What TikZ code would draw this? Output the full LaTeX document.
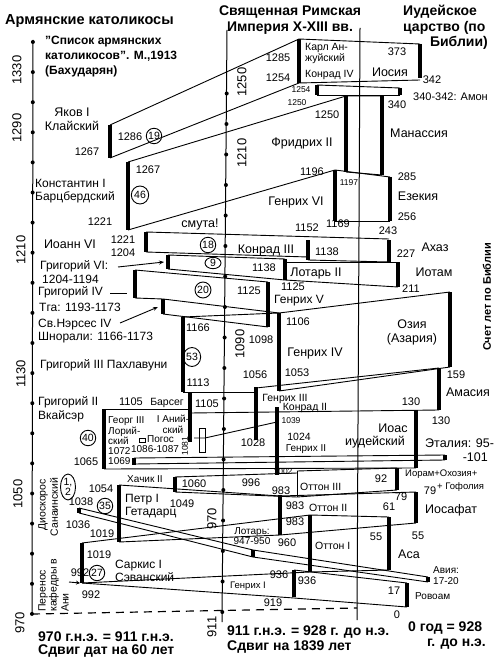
\documentclass[tikz,border=0pt]{standalone}
\usepackage{fontspec}
\setmainfont{Liberation Sans}
\usetikzlibrary{arrows.meta,shapes.geometric}
\begin{document}
\begin{tikzpicture}[x=1pt,y=-1pt,
  ln/.style={line width=0.9pt},
  barline/.style={line width=4pt},
  axisline/.style={line width=1pt},
  num/.style={font=\fontsize{11}{12}\selectfont, inner sep=0pt},
  nm/.style={font=\fontsize{12.5}{14}\selectfont, inner sep=0pt},
  lbl/.style={font=\fontsize{12}{13.5}\selectfont, inner sep=0pt, anchor=west},
  sm/.style={font=\fontsize{8.5}{9}\selectfont, inner sep=0pt},
  mid/.style={font=\fontsize{10.5}{11}\selectfont, inner sep=0pt},
  hd/.style={font=\bfseries\fontsize{14}{15.5}\selectfont, inner sep=0pt},
  yr/.style={font=\fontsize{13}{13}\selectfont, inner sep=0pt, rotate=90},
  circ/.style={draw, circle, line width=0.9pt, inner sep=0.6pt, minimum size=13pt, font=\fontsize{10.5}{11}\selectfont},
  ell/.style={draw, ellipse, line width=0.9pt, inner sep=0.3pt, font=\fontsize{10.5}{11}\selectfont},
  dotn/.style={circle, fill, inner sep=0pt, minimum size=4pt},
]
\path[use as bounding box] (0,0) rectangle (500,660);

% ---------- axes ----------
\coordinate (LA1) at (33,40); \coordinate (LA2) at (32,614);
\coordinate (CA1) at (227,30); \coordinate (CA2) at (222,622);
\coordinate (RA1) at (360,28); \coordinate (RA2) at (357,620);
\draw[axisline] (LA1) -- (LA2);
\draw[axisline] (CA1) -- (CA2);
\draw[axisline] (RA1) -- (RA2);
\foreach \k in {0,...,19} \node[dotn] (ld\k) at (32.9-0.05*\k, 42+30.1*\k) {};
\foreach \k in {0,...,17} \node[dotn] (cd\k) at (222.3+0.26*\k, 612-30.5*\k) {};
\draw[line width=1.2pt, dash pattern=on 8pt off 6pt] (LA2) -- (RA2 |- 0,608);

% ---------- headers ----------
\node[hd, font=\bfseries\fontsize{14.5}{16}\selectfont, anchor=west] (hArm) at (5,21) {Армянские католикосы};
\node[hd, font=\bfseries\fontsize{12}{15}\selectfont, anchor=north west, align=left] (hList) at (45,36) {"Список армянских\\католикосов". М.,1913\\(Бахударян)};
\node[hd, align=center] (hHRE) at (290,20) {Священная Римская\\Империя X-XIII вв.};
\node[hd, anchor=west] (hJ1) at (403,12) {Иудейское};
\node[hd, anchor=west] (hJ2) at (403,28) {царство (по};
\node[hd, anchor=east] (hJ3) at (488,43) {Библии)};
\node[hd, font=\bfseries\fontsize{11}{12}\selectfont, rotate=90] (hCnt) at (487,297) {Счет лет по Библии};

% bottom
\node[hd, anchor=west] (b1) at (38,637) {970 г.н.э. = 911 г.н.э.};
\node[hd, anchor=west] (b2) at (38,651) {Сдвиг дат на 60 лет};
\node[hd, anchor=west] (b3) at (227,632) {911 г.н.э. = 928 г. до н.э.};
\node[hd, anchor=west] (b4) at (227,647) {Сдвиг на 1839 лет};
\node[hd, anchor=west] (b5) at (408,628) {0 год = 928};
\node[hd, anchor=east] (b6) at (486,644) {г. до н.э.};

% axis year labels
\node[yr] (y1330) at (17,70) {1330};
\node[yr] (y1290) at (17,128) {1290};
\node[yr] (y1210) at (21,250) {1210};
\node[yr] (y1130) at (21,374) {1130};
\node[yr] (y1050) at (18,494) {1050};
\node[yr] (y970) at (20,623) {970};
\node[yr] (c1250) at (242,82) {1250};
\node[yr] (c1210) at (242,153) {1210};
\node[yr] (c1090) at (240,344) {1090};
\node[yr] (c970) at (212,519) {970};
\node[yr] (c911) at (212,627) {911};

% ---------- band lines ----------
\draw[ln] (110,125) -- (299,39) -- (420,44);
\draw[ln] (110,158) -- (299,83) -- (420,80);
\draw[ln] (317,85) -- (400,88);
\draw[ln] (317,95) -- (400,95);
\draw[ln] (128,162) -- (346,96) -- (382,96);
\draw[ln] (128,230) -- (335,170) -- (390,177);
\draw[ln] (346,172) -- (382,175);
\draw[ln] (335,221) -- (390,221);
\draw[ln] (146,232) -- (389,239);
\draw[ln] (146,252) -- (308,257);
\draw[ln] (308,260) -- (389,262);
\draw[ln] (168,255) -- (285,259);
\draw[ln] (285,262) -- (398,262);
\draw[ln] (168,269) -- (285,280) -- (398,287);
\draw[ln] (135,270) -- (268,282);
\draw[ln] (135,298) -- (163,299);
\draw[ln] (163,299) -- (279,313) -- (450,292);
\draw[ln] (163,314) -- (268,327);
\draw[ln] (183,317) -- (279,313);
\draw[ln] (183,392) -- (256,392);
\draw[ln] (279,391) -- (450,367);
\draw[ln] (256,388) -- (439,368);
\draw[ln] (190,413) -- (439,410);
\draw[ln] (104,409) -- (190,409);
\draw[ln] (104,469) -- (416,468);
\draw[ln] (134,458) -- (445,455);
\draw[ln] (134,464) -- (445,460);
\draw[ln] (175,477) -- (297,473);
\draw[ln] (297,471) -- (397,468);
\draw[ln] (297,471) -- (297,497);
\draw[ln] (175,492) -- (297,497) -- (397,490);
\draw[ln] (119,485) -- (280,496) -- (416,492);
\draw[ln] (119,542) -- (280,535) -- (416,523);
\draw[ln] (82,543) -- (310,515) -- (389,517);
\draw[ln] (82,583) -- (310,572) -- (389,570);
\draw[ln] (79,508) -- (253,550) -- (428,577);
\draw[ln] (79,513) -- (253,557) -- (428,582);
\draw[ln] (294,570) -- (407,583);
\draw[ln] (82,583) -- (294,598) -- (407,607);

% ---------- thick bars ----------
\foreach \x/\a/\b in {110/125/158, 299/39/83, 420/44/78, 317/85/95, 400/88/95,
  128/162/230, 346/96/172, 382/96/175, 335/170/221, 390/177/221,
  146/232/252, 308/240/260, 389/240/262, 168/255/269, 285/259/280, 398/262/287,
  135/270/298, 163/299/314, 268/282/327, 183/317/392, 279/313/391, 450/292/367,
  190/393/442, 256/387/440, 277/407/475, 439/368/410, 416/410/468, 104/409/469,
  134/458/465, 445/455/460, 175/477/492, 397/468/490, 119/485/542, 280/495/535,
  416/492/523, 79/508/513, 253/550/557, 428/577/582, 82/543/583, 310/515/572,
  389/517/570, 294/570/597, 407/583/607}
  \draw[barline] (\x,\a) -- (\x,\b);

% ---------- left (Armenian) labels ----------
\node[nm, align=center] (jak) at (72,119) {Яков I\\Клайский};
\node[num] (n1286) at (130,137) {1286};
\node[num] (n1267a) at (87,152) {1267};
\node[circ] (c19) at (154,136) {19};
\node[num] (n1267b) at (148,170) {1267};
\node[ell, minimum width=12pt, minimum height=18pt] (c46) at (140,195) {46};
\node[lbl, align=left] (kon) at (35,191) {Константин I\\Барцбердский};
\node[num] (n1221a) at (100,222) {1221};
\node[nm] (ioann) at (70,244) {Иоанн VI};
\node[num] (n1221b) at (123,240) {1221};
\node[num] (n1204) at (123,253) {1204};
\node[lbl] (gr6) at (40,266) {Григорий VI:};
\node[lbl] (gr6y) at (42,279) {1204-1194};
\node[lbl] (gr4) at (38,292) {Григорий IV};
\node[lbl] (gr4y) at (39,307) {Тга: 1193-1173};
\node[lbl] (ner) at (38,325) {Св.Нэрсес IV};
\node[lbl] (nery) at (38,338) {Шнорали: 1166-1173};
\node[lbl] (gr3) at (40,365) {Григорий III Пахлавуни};
\node[lbl] (gr2) at (38,402) {Григорий II};
\node[lbl] (gr2b) at (38,416) {Вкайсэр};
\coordinate (gr6a) at (118,267); \coordinate (gr4a) at (110,293); \coordinate (nera) at (120,323);
\draw[ln, -{Stealth[length=5pt,width=4pt]}] (gr6a) -- (164,262);
\draw[ln] (gr4a) -- (127,293);
\draw[ln, -{Stealth[length=5pt,width=4pt]}] (nera) -- (158,307);

\node[num] (n1105a) at (131,402) {1105};
\node[mid] (bars) at (167,403) {Барсег};
\node[num] (n1105b) at (207,404) {1105};
\node[circ] (c40) at (88,438) {40};
\node[mid, anchor=west, align=left, font=\fontsize{10}{10.3}\selectfont] (georg) at (108,441) {Георг III\\Лорий-\\ский\\1072\\1069};
\node[mid, align=center, font=\fontsize{10}{11}\selectfont] (anij) at (173,424) {I Аний-\\ский};
\draw[line width=0.9pt] (139.5,438.5) rectangle (145.5,442.5);
\node[mid, anchor=west, font=\fontsize{10}{11}\selectfont] (pogos) at (147,439) {Погос};
\node[mid, font=\fontsize{10}{11}\selectfont] (pogosy) at (155,449) {1086-1087};
\node[sm, rotate=90] (n1081) at (185,446) {1081};
\draw[ln, fill=white] (199,428) rectangle (205,452);
\draw[ln] (194,438) -- (205,438) -- (277,422);
\node[num] (n1065) at (86,462) {1065};
\node[mid, font=\fontsize{10}{11}\selectfont] (hach) at (145,479) {Хачик II};
\node[num] (n1054) at (101,489) {1054};
\node[lbl, align=left] (petr) at (125,506) {Петр I\\Гетадарц};
\node[circ] (c35) at (105,506) {35};
\node[ell, align=center, minimum width=15pt, minimum height=22pt, font=\fontsize{10.5}{10.5}\selectfont] (c12) at (68,487) {1,\\2};
\node[mid, rotate=90, font=\fontsize{10.5}{11}\selectfont] (dio1) at (43,505) {Диоскорос};
\node[mid, rotate=90, font=\fontsize{10.5}{11}\selectfont] (dio2) at (54,507) {Санаинский};
\node[num] (n1038) at (81,502) {1038};
\node[num] (n1036) at (78,525) {1036};
\node[num] (n1019a) at (102,534) {1019};
\node[num] (n1019b) at (99,555) {1019};
\node[lbl, align=left] (sark) at (115,571) {Саркис I\\Сэванский};
\node[circ] (c27) at (97,573) {27};
\node[num] (n992a) at (80,573) {992};
\draw[ln, -{Stealth[length=4pt,width=4pt]}] (69,582) -- (80,583);
\node[num] (n992b) at (91,595) {992};
\node[mid, rotate=90, anchor=west, font=\fontsize{10.5}{11}\selectfont] (per1) at (43,612) {Перенос};
\node[mid, rotate=90, anchor=west, font=\fontsize{10.5}{11}\selectfont] (per2) at (54,612) {кафедры в};
\node[mid, rotate=90, anchor=west, font=\fontsize{10.5}{11}\selectfont] (per3) at (65,612) {Ани};

% ---------- middle (HRE) labels ----------
\node[num] (n1285) at (278,58) {1285};
\node[num] (n1254a) at (278,78) {1254};
\node[mid, anchor=west, align=left] (karl) at (305,53) {Карл Ан-\\жуйский};
\node[mid, anchor=west] (kon4) at (305,75) {Конрад IV};
\node[sm] (n1254b) at (301,90) {1254};
\node[sm] (n1250a) at (297,103) {1250};
\node[num] (n1250b) at (327,115) {1250};
\node[nm] (frid) at (302,143) {Фридрих II};
\node[num] (n1196) at (312,172) {1196};
\node[sm] (n1197) at (349,183) {1197};
\node[nm] (hen6) at (296,202) {Генрих VI};
\node[nm] (smuta) at (200,224) {смута!};
\node[num] (n1152) at (307,228) {1152};
\node[num] (n1169) at (338,224) {1169};
\node[circ] (c18) at (208,245) {18};
\node[nm] (kon3) at (266,250) {Конрад III};
\node[num] (n1138a) at (327,252) {1138};
\node[ell, minimum width=16pt, minimum height=10pt] (c9) at (213,263) {9};
\node[num] (n1138b) at (264,268) {1138};
\node[nm] (lot2) at (316,273) {Лотарь II};
\node[circ, minimum size=16pt] (c20) at (203,290) {20};
\node[num] (n1125a) at (249,291) {1125};
\node[num] (n1125b) at (293,287) {1125};
\node[nm, font=\fontsize{12}{13}\selectfont] (hen5) at (299,301) {Генрих V};
\node[num] (n1166) at (198,328) {1166};
\node[num] (n1106) at (298,322) {1106};
\node[num] (n1098) at (261,340) {1098};
\node[ell, minimum width=12pt, minimum height=19pt] (c53) at (192,357) {53};
\node[nm] (hen4) at (315,353) {Генрих IV};
\node[num] (n1056) at (255,375) {1056};
\node[num] (n1053) at (297,373) {1053};
\node[num] (n1113) at (198,383) {1113};
\node[mid] (hen3) at (285,399) {Генрих III};
\node[mid] (kon2) at (305,408) {Конрад II};
\node[sm] (n1039) at (291,421) {1039};
\node[num, font=\fontsize{10.5}{11}\selectfont] (n1024) at (299,437) {1024};
\node[mid, font=\fontsize{10}{11}\selectfont] (hen2) at (306,449) {Генрих II};
\node[num] (n1028) at (253,443) {1028};
\node[sm] (n1002) at (283,472) {1002};
\node[num] (n1060) at (194,484) {1060};
\node[num] (n996) at (251,483) {996};
\node[num] (n983a) at (281,491) {983};
\node[mid, anchor=west] (ott3) at (300,487) {Оттон III};
\node[num] (n1049) at (182,504) {1049};
\node[num] (n983b) at (295,506) {983};
\node[mid, anchor=west] (ott2) at (309,508) {Оттон II};
\node[num] (n983c) at (295,522) {983};
\node[mid, align=center, font=\fontsize{10}{10.5}\selectfont] (lotar) at (252,536) {Лотарь:\\947-950};
\node[num] (n960) at (287,543) {960};
\node[mid, anchor=west] (ott1) at (315,546) {Оттон I};
\node[num] (n936a) at (279,575) {936};
\node[num] (n936b) at (307,581) {936};
\node[mid, font=\fontsize{9.5}{10}\selectfont] (hen1) at (248,586) {Генрих I};
\node[num] (n919) at (273,603) {919};

% ---------- right (Judea) labels ----------
\node[num] (n373) at (397,52) {373};
\node[nm] (ios) at (390,72) {Иосия};
\node[num] (n342) at (432,80) {342};
\node[mid, anchor=west, font=\fontsize{11}{12}\selectfont] (amon) at (413,97) {340-342: Амон};
\node[num] (n340) at (397,105) {340};
\node[nm] (man) at (419,133) {Манассия};
\node[num] (n285) at (407,177) {285};
\node[nm] (ezek) at (418,196) {Езекия};
\node[num] (n256) at (407,217) {256};
\node[num] (n243) at (388,231) {243};
\node[nm] (ahaz) at (435,247) {Ахаз};
\node[num] (n227) at (406,254) {227};
\node[nm] (iot) at (434,272) {Иотам};
\node[num] (n211) at (411,289) {211};
\node[nm, align=center] (oz) at (412,332) {Озия\\(Азария)};
\node[num] (n159) at (456,375) {159};
\node[nm] (amas) at (468,392) {Амасия};
\node[num] (n130a) at (411,402) {130};
\node[num] (n130b) at (441,421) {130};
\node[nm] (ioas) at (393,428) {Иоас};
\node[nm] (iud) at (375,442) {иудейский};
\node[nm, anchor=west] (etal) at (425,443) {Эталия: 95-};
\node[nm, anchor=east] (etal2) at (488,457) {-101};
\node[num] (n92) at (381,479) {92};
\node[mid, anchor=west, font=\fontsize{9.5}{10}\selectfont] (ioram) at (405,474) {Иорам+Охозия+};
\node[mid, anchor=west, font=\fontsize{9.5}{10}\selectfont] (gof) at (437,487) {+ Гофолия};
\node[num] (n79a) at (430,491) {79};
\node[num] (n79b) at (401,497) {79};
\node[num] (n61) at (389,507) {61};
\node[nm, anchor=west] (iosaf) at (425,510) {Иосафат};
\node[num] (n55a) at (376,537) {55};
\node[num] (n55b) at (418,536) {55};
\node[nm] (asa) at (409,554) {Аса};
\node[mid, anchor=west, align=left, font=\fontsize{10}{11}\selectfont] (avia) at (433,576) {Авия:\\17-20};
\node[num] (n17) at (394,591) {17};
\node[mid, anchor=west, font=\fontsize{10}{11}\selectfont] (rov) at (415,596) {Ровоам};
\node[num] (n0) at (397,615) {0};
\end{tikzpicture}
\end{document}
